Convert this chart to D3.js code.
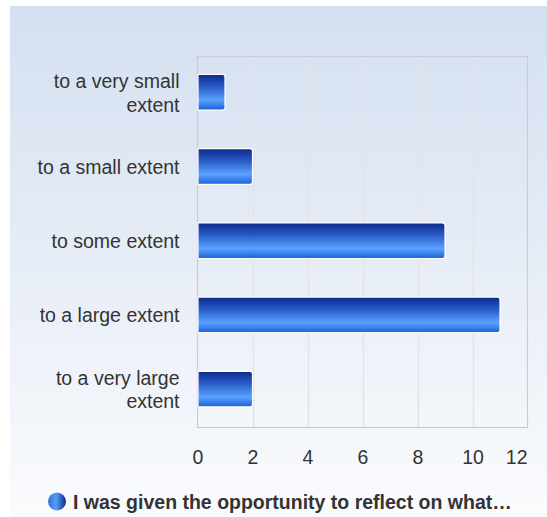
<!DOCTYPE html>
<html><head><meta charset="utf-8">
<script src="https://cdn.jsdelivr.net/npm/d3@7"></script>
<style>body{margin:0;background:#fff;}svg{display:block;font-family:Arial,"Liberation Sans",sans-serif;}</style>
</head><body>
<svg id="c" width="547" height="517"></svg>
<script>
const categories = [["to a very small","extent"],["to a small extent"],["to some extent"],["to a large extent"],["to a very large","extent"]];
const values = [1, 2, 9, 11, 2];
const tickValues = [0, 2, 4, 6, 8, 10, 12];
const seriesName = "I was given the opportunity to reflect on what\u2026";

(function(){
const FS = 19.5;
const svg = d3.select("#c");
const defs = svg.append("defs");
const bg = defs.append("linearGradient").attr("id","bg").attr("x1",0).attr("y1",0).attr("x2",0).attr("y2",1);
bg.append("stop").attr("offset","0%").attr("stop-color","#d4dff0");
bg.append("stop").attr("offset","100%").attr("stop-color","#fafbfd");
const bar = defs.append("linearGradient").attr("id","bar").attr("x1",0).attr("y1",0).attr("x2",0).attr("y2",1);
bar.append("stop").attr("offset","0%").attr("stop-color","#0b2a8c");
bar.append("stop").attr("offset","35%").attr("stop-color","#2a5cc8");
bar.append("stop").attr("offset","72%").attr("stop-color","#5aa2ff");
bar.append("stop").attr("offset","100%").attr("stop-color","#1b5fd6");
const lg = defs.append("linearGradient").attr("id","lg").attr("x1",0).attr("y1",0).attr("x2",1).attr("y2",0);
lg.append("stop").attr("offset","0%").attr("stop-color","#2f6fe0");
lg.append("stop").attr("offset","45%").attr("stop-color","#5a9cf5");
lg.append("stop").attr("offset","100%").attr("stop-color","#0b2a8c");

svg.append("rect").attr("x",10).attr("y",6).attr("width",537).attr("height",511).attr("fill","url(#bg)");

const pl = 197.5, pr = 527.5, pt = 56.5, pb = 427.5;
const x = d3.scaleLinear().domain([0, 12]).range([pl, pr]);
const y = d3.scaleBand().domain(d3.range(categories.length)).range([pt-1.3, pb-1.3]).paddingInner(0.52).paddingOuter(0.26);

svg.append("g").selectAll("line").data(tickValues.slice(1,-1)).join("line")
  .attr("x1",d=>Math.round(x(d))+0.5).attr("x2",d=>Math.round(x(d))+0.5)
  .attr("y1",pt).attr("y2",pb).attr("stroke","#e2e4e8").attr("stroke-width",1.5);
svg.append("rect").attr("x",pl).attr("y",pt).attr("width",pr-pl).attr("height",pb-pt)
  .attr("fill","none").attr("stroke","#c9ccd2").attr("stroke-width",1.2);

svg.append("g").selectAll("path").data(values).join("path")
  .attr("d",(d,i)=>{
    const x0 = x(0)+0.5, x1 = x(d), y0 = y(i), h = y.bandwidth(), r = 2.5;
    return `M${x0},${y0}H${x1-r}Q${x1},${y0} ${x1},${y0+r}V${y0+h-r}Q${x1},${y0+h} ${x1-r},${y0+h}H${x0}Z`;
  })
  .attr("fill","url(#bar)").attr("stroke","#ffffff").attr("stroke-width",1.2);

const xAxis = svg.append("g").attr("transform",`translate(0,${pb})`)
  .call(d3.axisBottom(x).tickValues(tickValues).tickSize(0).tickPadding(0));
xAxis.select(".domain").remove();
xAxis.selectAll("text").attr("font-size",FS).attr("fill","#333").attr("font-family","Arial,'Liberation Sans',sans-serif")
  .attr("dy",null).attr("y",36.5);
xAxis.selectAll(".tick").filter(d=>d===12).select("text").attr("text-anchor","end").attr("x",-0.5);

const cl = svg.append("g").selectAll("text").data(categories).join("text")
  .attr("text-anchor","end").attr("font-size",FS).attr("fill","#333")
  .attr("transform",(d,i)=>`translate(179.5,${y(i)+y.bandwidth()/2})`);
cl.each(function(d){
  const t = d3.select(this);
  const n = d.length;
  d.forEach((s,k)=>{
    t.append("tspan").attr("x",0).attr("y",(k-(n-1)/2)*23.5+7.5).text(s);
  });
});

svg.append("circle").attr("cx",57).attr("cy",501.5).attr("r",9).attr("fill","url(#lg)");
svg.append("text").attr("x",73).attr("y",509).attr("font-size",FS).attr("font-weight","bold")
  .attr("fill","#333").text(seriesName);
})();
</script>
</body></html>
